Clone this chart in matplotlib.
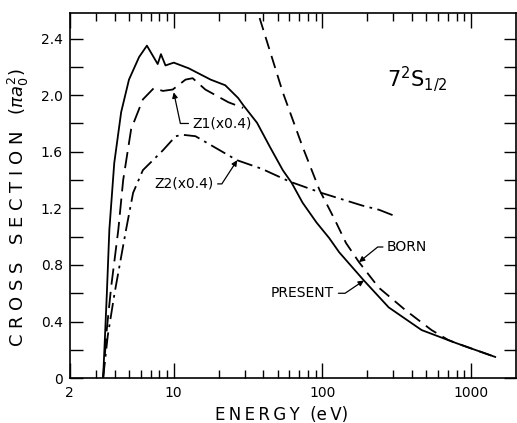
import numpy as np
import matplotlib
matplotlib.use("Agg")
import matplotlib.pyplot as plt
from matplotlib.ticker import FixedLocator, NullFormatter

# energy (eV) / cross section (pi a0^2)
present_e = [3.35, 3.45, 3.55, 3.69, 3.98, 4.43, 5.0, 5.85, 6.6, 7.8, 8.2, 8.8, 10.0, 12.6,
             17.7, 22.2, 27.1, 29.3, 36.3, 44.3, 54.1, 62.1, 73.5, 91.2, 111, 129.5, 190,
             279, 464, 782, 1000, 1450]
present_s = [0.0, 0.3, 0.6, 1.05, 1.52, 1.88, 2.11, 2.27, 2.35, 2.22, 2.29, 2.21, 2.23, 2.19,
             2.11, 2.07, 1.98, 1.93, 1.805, 1.635, 1.47, 1.38, 1.24, 1.10, 0.99, 0.89, 0.69,
             0.50, 0.34, 0.25, 0.21, 0.15]

born_e = [33, 36.9, 45, 54.1, 73.5, 95.5, 121, 144, 176, 239, 362, 541, 700, 782, 1000, 1450]
born_s = [2.75, 2.58, 2.29, 2.02, 1.635, 1.33, 1.12, 0.955, 0.82, 0.64, 0.48, 0.34, 0.27, 0.25, 0.21, 0.15]

z1_e = [3.35, 3.55, 3.8, 4.24, 4.57, 5.17, 6.2, 7.35, 8.45, 9.85, 12.0, 13.4, 16.3, 23.3, 29.3]
z1_s = [0.0, 0.35, 0.65, 1.05, 1.40, 1.76, 1.97, 2.05, 2.03, 2.04, 2.11, 2.12, 2.04, 1.95, 1.91]

z2_e = [3.35, 3.6, 4.0, 4.78, 5.33, 6.2, 8.45, 10.3, 11.5, 14.0, 24.7, 26.7, 39, 60, 98, 185, 240, 300]
z2_s = [0.0, 0.3, 0.6, 1.05, 1.31, 1.47, 1.61, 1.71, 1.72, 1.71, 1.56, 1.54, 1.48, 1.39, 1.31, 1.22, 1.19, 1.15]

plt.rcParams['font.family'] = ['DejaVu Sans']

fig = plt.figure(figsize=(5.17, 4.23), dpi=100)
ax = fig.add_axes([0.135, 0.106, 0.863, 0.863])

lw = 1.3
ax.plot(present_e, present_s, color='black', lw=lw, solid_joinstyle='round')
ax.plot(born_e, born_s, color='black', lw=lw, dashes=(7, 4))
ax.plot(z1_e, z1_s, color='black', lw=lw, dashes=(9, 4))
ax.plot(z2_e, z2_s, color='black', lw=lw, dashes=(9, 3, 1.5, 3))

ax.set_xscale('log')
ax.set_xlim(2, 2000)
ax.set_ylim(0, 2.58)

ax.xaxis.set_major_locator(FixedLocator([2, 10, 100, 1000]))
ax.set_xticklabels(['2', '10', '100', '1000'])
minors = [m * d for d in (1, 10, 100) for m in range(2, 10) if m * d > 2]
ax.xaxis.set_minor_locator(FixedLocator(minors))
ax.xaxis.set_minor_formatter(NullFormatter())

ax.yaxis.set_major_locator(FixedLocator([0, 0.4, 0.8, 1.2, 1.6, 2.0, 2.4]))
ax.set_yticklabels(['0', '0.4', '0.8', '1.2', '1.6', '2.0', '2.4'])
ax.yaxis.set_minor_locator(FixedLocator([0.2, 0.6, 1.0, 1.4, 1.8, 2.2]))

ax.tick_params(axis='x', which='major', direction='in', top=True, length=10.5, width=1, labelsize=10, pad=6)
ax.tick_params(axis='x', which='minor', direction='in', top=True, length=5.5, width=1)
ax.tick_params(axis='y', which='both', direction='in', right=True, length=9, width=1, labelsize=10, pad=5)
for s in ax.spines.values():
    s.set_linewidth(1.2)

thin = '\u2009'
ax.set_xlabel(thin.join('ENERGY') + '  (' + thin.join('eV') + ')', fontsize=12)
ax.xaxis.set_label_coords(0.475, -0.075)
ax.set_ylabel(' '.join('CROSS') + '   ' + ' '.join('SECTION') + r'   ($\pi a_0^2$)', fontsize=13)
ax.yaxis.set_label_coords(-0.088, 0.466)

ax.text(0.71, 0.80, r'$\mathregular{7^2S_{1/2}}$', transform=ax.transAxes, fontsize=15)

arrow = dict(arrowstyle='-|>', color='black', lw=0.9, mutation_scale=8, shrinkA=1, shrinkB=0)

ax.annotate('Z1(x0.4)', xy=(10.0, 2.02), xytext=(13.4, 1.80), ha='left', va='center', fontsize=10,
            arrowprops=dict(arrow, relpos=(0, 0.5), connectionstyle='angle,angleA=0,angleB=102,rad=0'))
ax.annotate('Z2(x0.4)', xy=(26.7, 1.54), xytext=(18.5, 1.373), ha='right', va='center', fontsize=10,
            arrowprops=dict(arrow, relpos=(1, 0.5), connectionstyle='angle,angleA=0,angleB=57,rad=0'))
ax.annotate('BORN', xy=(176, 0.82), xytext=(272, 0.927), ha='left', va='center', fontsize=10,
            arrowprops=dict(arrow, relpos=(0, 0.5), connectionstyle='angle,angleA=0,angleB=39,rad=0'))
ax.annotate('PRESENT', xy=(190, 0.69), xytext=(120, 0.60), ha='right', va='center', fontsize=10,
            arrowprops=dict(arrow, relpos=(1, 0.5), connectionstyle='angle,angleA=0,angleB=34,rad=0'))

fig.savefig('out.png', dpi=100)
